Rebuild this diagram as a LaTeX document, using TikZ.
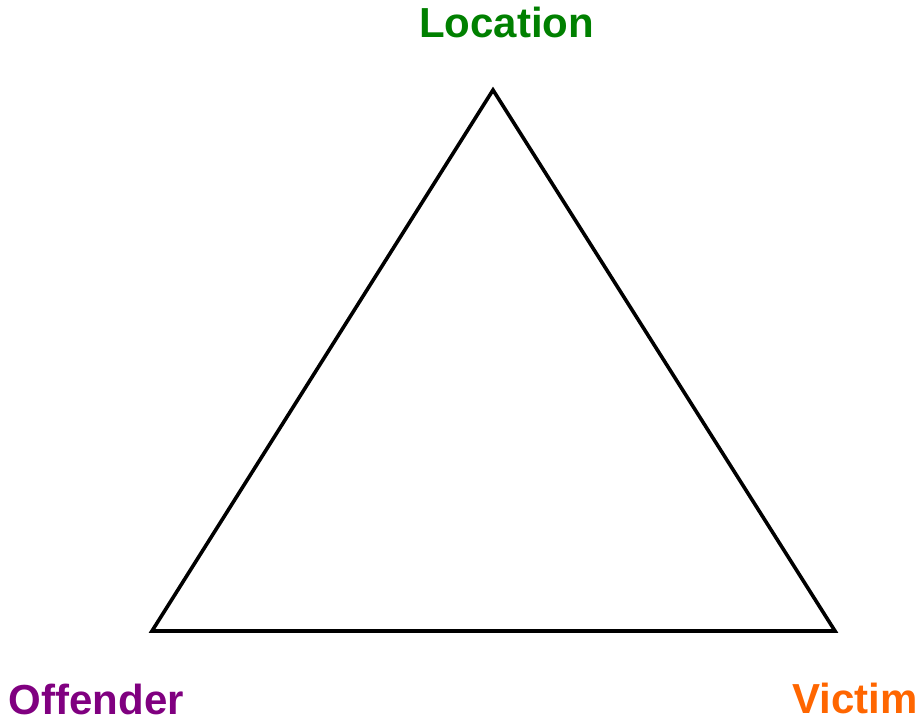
\documentclass[tikz,border=0pt]{standalone}
\usepackage{fontspec}
\setmainfont{Liberation Sans}
\definecolor{locgreen}{RGB}{0,128,0}
\definecolor{offpurple}{RGB}{128,0,128}
\definecolor{vicorange}{RGB}{255,102,0}
\tikzset{
  lbl/.style={inner sep=0pt, anchor=base, font=\fontsize{42}{42}\selectfont\bfseries},
  edge/.style={line width=3.6pt, line join=miter}
}
\begin{document}
\begin{tikzpicture}[x=1pt,y=1pt]
\useasboundingbox (0,0) rectangle (921,721);
\coordinate (top) at (493,631);
\coordinate (bl) at (152,90);
\coordinate (br) at (835,90);
\draw[edge] (top) -- (br) -- (bl) -- cycle;
\node[lbl, text=locgreen] (loc) at (506.5,683.5) {Location};
\node[lbl, text=offpurple] (off) at (96.5,7) {Offender};
\node[lbl, text=vicorange] (vic) at (855,8) {Victim};
\end{tikzpicture}
\end{document}
